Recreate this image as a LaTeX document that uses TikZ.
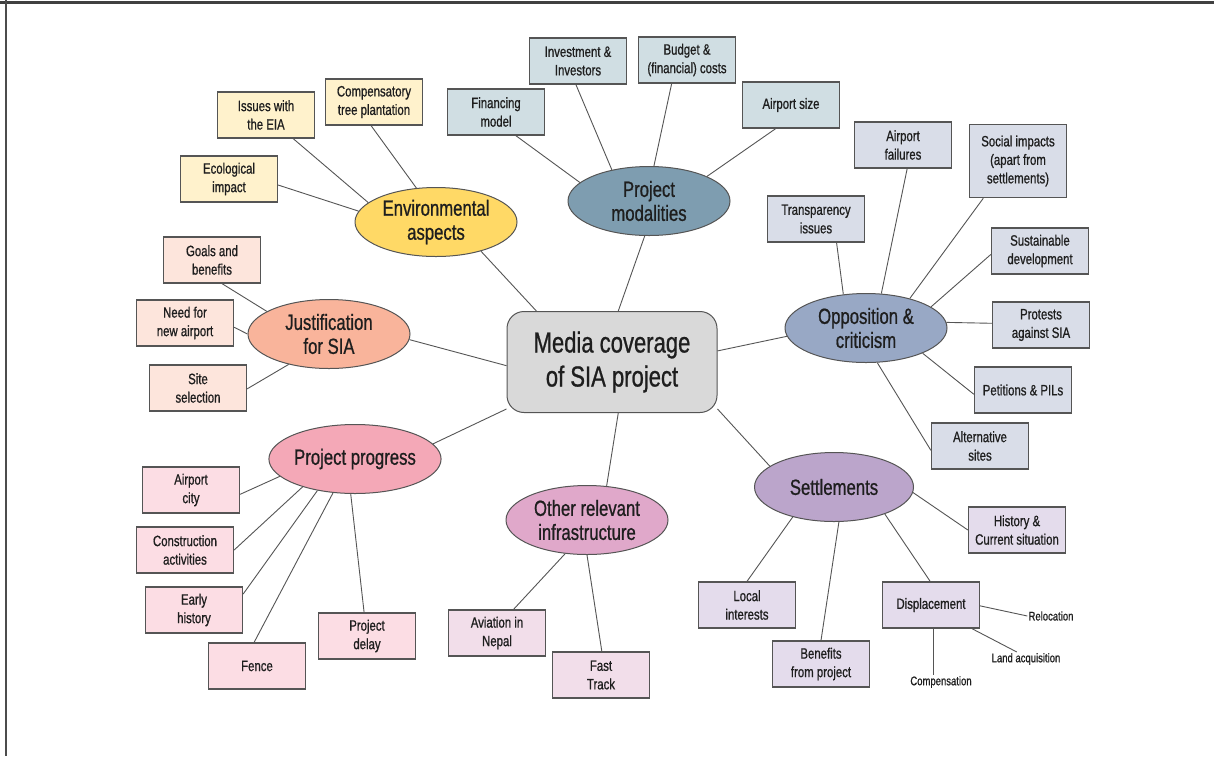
\documentclass[tikz,border=0pt]{standalone}
\usepackage{fontspec}
\setmainfont{Liberation Sans}[FakeStretch=0.76, FakeBold=0.8]
\usetikzlibrary{shapes.geometric,calc}
\definecolor{txt}{HTML}{1E1E1E}
\definecolor{edge}{HTML}{555555}
\definecolor{cGray}{HTML}{D9D9D9}
\definecolor{envH}{HTML}{FFD966}\definecolor{envL}{HTML}{FFF2CC}
\definecolor{modH}{HTML}{7E9DB0}\definecolor{modL}{HTML}{D0DEE3}
\definecolor{oppH}{HTML}{98A8C5}\definecolor{oppL}{HTML}{D9DDE8}
\definecolor{jusH}{HTML}{F9B49B}\definecolor{jusL}{HTML}{FDE5DC}
\definecolor{proH}{HTML}{F4A8B7}\definecolor{proL}{HTML}{FCDDE4}
\definecolor{othH}{HTML}{E0A8CA}\definecolor{othL}{HTML}{F2DEEA}
\definecolor{setH}{HTML}{BBA5CB}\definecolor{setL}{HTML}{E4DCEC}
\tikzset{
  hub/.style={ellipse, draw=edge, line width=1pt, minimum width=162pt, minimum height=69pt,
    inner sep=0pt, align=center, text=txt, font=\fontsize{22}{24}\selectfont},
  leaf/.style={rectangle, draw=edge, line width=1.3pt, minimum width=97pt, minimum height=46pt,
    inner sep=1pt, align=center, text=txt, font=\fontsize{15}{18.5}\selectfont},
  tiny/.style={inner sep=1pt, text=txt, font=\fontsize{12.5}{14}\selectfont},
  centre/.style={rectangle, rounded corners=17pt, draw=edge, line width=1pt, fill=cGray,
    minimum width=210pt, minimum height=101pt, align=center, text=txt,
    font=\fontsize{29}{34}\selectfont},
  conn/.style={draw=edge, line width=0.9pt}
}
\begin{document}
\begin{tikzpicture}[x=1pt,y=-1pt]
\useasboundingbox (0,0) rectangle (1214,756);
\fill[white] (0,0) rectangle (1214,756);
\draw[line width=2.2pt, black!75] (0,2.5) -- (1214,2.5);
\draw[line width=2.2pt, black!70] (6,0) -- (6,756);

% centre
\node[centre] (c) at (612,362) {Media coverage\\of SIA project};

% hubs
\node[hub, fill=envH] (env) at (436,222) {Environmental\\aspects};
\node[hub, fill=modH] (mod) at (649,201) {Project\\modalities};
\node[hub, fill=oppH] (opp) at (866,328) {Opposition \&\\criticism};
\node[hub, fill=jusH] (jus) at (329,334) {Justification\\for SIA};
\node[hub, fill=proH] (pro) at (355,459) {Project progress};
\node[hub, fill=othH] (oth) at (587,520) {Other relevant\\infrastructure};
\node[hub, fill=setH, minimum width=159pt] (set) at (834,487) {Settlements};

% environmental leaves
\node[leaf, fill=envL] (eia) at (266,115) {Issues with\\the EIA};
\node[leaf, fill=envL] (comp) at (374,102) {Compensatory\\tree plantation};
\node[leaf, fill=envL] (eco) at (229,179) {Ecological\\impact};

% modalities leaves
\node[leaf, fill=modL] (fin) at (496,112) {Financing\\model};
\node[leaf, fill=modL] (inv) at (578,61) {Investment \&\\Investors};
\node[leaf, fill=modL] (bud) at (687,60) {Budget \&\\(financial) costs};
\node[leaf, fill=modL] (size) at (791,105) {Airport size};

% opposition leaves
\node[leaf, fill=oppL] (tra) at (816,219) {Transparency\\issues};
\node[leaf, fill=oppL] (fail) at (903,145) {Airport\\failures};
\node[leaf, fill=oppL, minimum height=73pt] (soc) at (1018,161) {Social impacts\\(apart from\\settlements)};
\node[leaf, fill=oppL] (sus) at (1040,251) {Sustainable\\development};
\node[leaf, fill=oppL] (prot) at (1041,325) {Protests\\against SIA};
\node[leaf, fill=oppL] (pet) at (1023,390) {Petitions \& PILs};
\node[leaf, fill=oppL] (alt) at (980,446) {Alternative\\sites};

% justification leaves
\node[leaf, fill=jusL] (goal) at (212,260) {Goals and\\benefits};
\node[leaf, fill=jusL] (need) at (185,323) {Need for\\new airport};
\node[leaf, fill=jusL] (site) at (198,388) {Site\\selection};

% progress leaves
\node[leaf, fill=proL] (ac) at (191,490) {Airport\\city};
\node[leaf, fill=proL] (con) at (185,550) {Construction\\activities};
\node[leaf, fill=proL] (ear) at (194,610) {Early\\history};
\node[leaf, fill=proL] (fen) at (257,666) {Fence};
\node[leaf, fill=proL] (del) at (367,636) {Project\\delay};

% other leaves
\node[leaf, fill=othL] (avi) at (497,633) {Aviation in\\Nepal};
\node[leaf, fill=othL] (fast) at (601,675) {Fast\\Track};

% settlement leaves
\node[leaf, fill=setL] (his) at (1017,530) {History \&\\Current situation};
\node[leaf, fill=setL] (loc) at (747,605) {Local\\interests};
\node[leaf, fill=setL] (ben) at (821,664) {Benefits\\from project};
\node[leaf, fill=setL] (disp) at (931,605) {Displacement};
\node[tiny] (reloc) at (1051,616) {Relocation};
\node[tiny] (land) at (1026,659) {Land acquisition};
\node[tiny] (cmp) at (941,682) {Compensation};

% centre to hubs
\draw[conn] (c.146) -- (env.-33);
\draw[conn] (c.83) -- (mod.-97);
\draw[conn] (c.6) -- (opp.186);
\draw[conn] (c.182) -- (jus.-4);
\draw[conn] (c.204) -- (pro.11);
\draw[conn] (c.-83) -- (oth.60);
\draw[conn] (c.-24) -- (set.162);

% environmental
\draw[conn] (env.164) -- (eia.-41);
\draw[conn] (env.120) -- (comp.-97);
\draw[conn] (env.172) -- (eco.-7);

% modalities
\draw[conn] (mod.165) -- (fin.-50);
\draw[conn] (mod.140) -- (inv.-95);
\draw[conn] (mod.82) -- (bud.-123);
\draw[conn] (mod.23) -- (size.-123);

% opposition
\draw[conn] (opp.124) -- (tra.-49);
\draw[conn] (opp.66) -- (fail.-80);
\draw[conn] (opp.34) -- (soc.-133);
\draw[conn] (opp.18) -- (sus.184);
\draw[conn] (opp.4) -- (prot.178);
\draw[conn] (opp.-24) -- (pet.185);
\draw[conn] (opp.-72) -- (alt.185);

% justification
\draw[conn] (jus.160) -- (goal.-67);
\draw[conn] (jus.180) -- (need.-5);
\draw[conn] (jus.217) -- (site.-1);

% progress
\draw[conn] (pro.193) -- (ac.-5);
\draw[conn] (pro.208) -- (con.0);
\draw[conn] (pro.220) -- (ear.18);
\draw[conn] (pro.237) -- (fen.97);
\draw[conn] (pro.263) -- (del.97);

% other
\draw[conn] (oth.237) -- (avi.55);
\draw[conn] (oth.-90) -- (fast.88);

% settlements
\draw[conn] (set.-4) -- (his.180);
\draw[conn] (set.216) -- (loc.90);
\draw[conn] (set.-82) -- (ben.90);
\draw[conn] (set.-28) -- (disp.92);
\draw[conn] (disp.-1) -- (reloc.west);
\draw[conn] (disp.-30) -- ($(land.north west)!0.37!(land.north east)$);
\draw[conn] (disp.-85) -- (disp.-85 |- cmp.north);
\end{tikzpicture}
\end{document}
